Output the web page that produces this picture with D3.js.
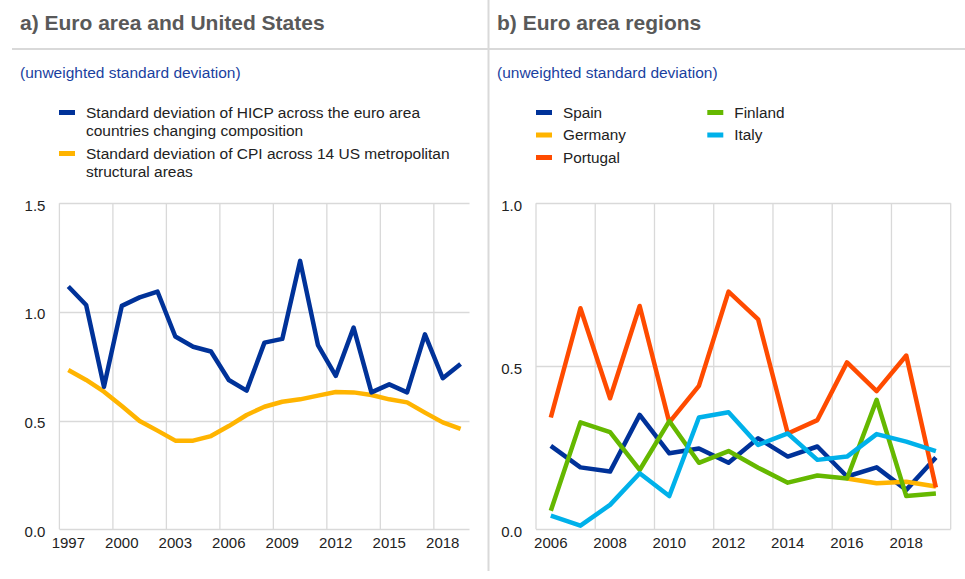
<!DOCTYPE html>
<html>
<head>
<meta charset="utf-8">
<script src="https://cdn.jsdelivr.net/npm/d3@7"></script>
<style>
  body { margin: 0; background: #fff; }
  svg text { font-family: "Liberation Sans", Arial, sans-serif; }
</style>
</head>
<body>
<div id="chart"></div>
<script>
// panel a) years and series
var yearsA = d3.range(1997, 2020);
var hicpEA = [1.117, 1.032, 0.656, 1.028, 1.067, 1.094, 0.887, 0.840, 0.818, 0.687, 0.638, 0.859,
  0.876, 1.235, 0.848, 0.706, 0.928, 0.630, 0.667, 0.630, 0.897, 0.695, 0.761];
var cpiUS = [0.733, 0.687, 0.633, 0.567, 0.498, 0.454, 0.408, 0.408, 0.429, 0.475, 0.526, 0.564,
  0.587, 0.598, 0.615, 0.632, 0.630, 0.618, 0.598, 0.584, 0.537, 0.492, 0.462];
var labelsA = ["Standard deviation of HICP across the euro area|countries changing composition",
  "Standard deviation of CPI across 14 US metropolitan|structural areas"];

// panel b) years and regions
var yearsB = d3.range(2006, 2020);
var spain    = [0.256, 0.190, 0.177, 0.351, 0.233, 0.248, 0.204, 0.279, 0.223, 0.254, 0.162, 0.190, 0.121, 0.220];
var germany  = [null, null, null, null, null, null, null, null, null, null, 0.156, 0.141, 0.146, 0.131];
var portugal = [0.343, 0.678, 0.402, 0.685, 0.328, 0.440, 0.729, 0.644, 0.294, 0.335, 0.512, 0.424, 0.533, 0.128];
var finland  = [0.057, 0.328, 0.298, 0.182, 0.332, 0.204, 0.240, 0.189, 0.143, 0.165, 0.156, 0.397, 0.102, 0.110];
var italy    = [0.042, 0.011, 0.075, 0.172, 0.102, 0.343, 0.359, 0.259, 0.294, 0.213, 0.223, 0.292, 0.269, 0.240];

var blue = "#003299", yellow = "#ffb400", orange = "#ff4b00", green = "#65b800", cyan = "#00b1ea";
var grid = "#d9d9d9";

var svg = d3.select("#chart").append("svg")
  .attr("width", 965).attr("height", 579);

// header lines
svg.append("line").attr("x1", 12).attr("x2", 965).attr("y1", 49).attr("y2", 49)
  .attr("stroke", grid).attr("stroke-width", 2);
svg.append("line").attr("x1", 488.5).attr("x2", 488.5).attr("y1", 0).attr("y2", 571)
  .attr("stroke", grid).attr("stroke-width", 2);

function header(x, title) {
  svg.append("text").attr("x", x).attr("y", 30)
    .attr("font-size", 21).attr("font-weight", "bold").attr("fill", "#595959").text(title);
  svg.append("text").attr("x", x).attr("y", 78)
    .attr("font-size", 15.5).attr("fill", "#1a3fa0").text("(unweighted standard deviation)");
}
header(20, "a) Euro area and United States");
header(497, "b) Euro area regions");

// draws one panel: band x scale, linear y, grid, lines
function panel(opts) {
  var x = d3.scaleBand().domain(opts.years).range(opts.xr).paddingInner(0).paddingOuter(0);
  var y = d3.scaleLinear().domain([0, opts.ymax]).range([529.3, 203.3]);
  var g = svg.append("g");

  // horizontal grid
  g.selectAll(".hg").data(opts.yticks).enter().append("line")
    .attr("x1", opts.xr[0]).attr("x2", opts.xr[1])
    .attr("y1", d => Math.round(y(d)) + 0.5).attr("y2", d => Math.round(y(d)) + 0.5)
    .attr("stroke", grid).attr("stroke-width", 1.3);
  // vertical grid at category boundaries
  var vx = opts.xticks.map(d => x(d));
  if (opts.closeRight) vx.push(opts.xr[1]);
  g.selectAll(".vg").data(vx).enter().append("line")
    .attr("x1", d => d).attr("x2", d => d)
    .attr("y1", y(opts.ymax)).attr("y2", y(0))
    .attr("stroke", grid).attr("stroke-width", 1.3);

  // y axis labels
  var ya = d3.axisLeft(y).tickValues(opts.yticks).tickFormat(d3.format(".1f")).tickSize(0).tickPadding(14);
  g.append("g").attr("transform", "translate(" + opts.xr[0] + ",2)").call(ya)
    .call(s => s.select(".domain").remove())
    .selectAll("text").attr("font-size", 15).attr("fill", "#222");
  // x axis labels
  var xa = d3.axisBottom(x).tickValues(opts.xticks).tickSize(0).tickPadding(8);
  g.append("g").attr("transform", "translate(0," + y(0) + ")").call(xa)
    .call(s => s.select(".domain").remove())
    .selectAll("text").attr("font-size", 15).attr("fill", "#222");

  var line = d3.line()
    .defined(d => d[1] != null)
    .x(d => x(d[0]) + x.bandwidth() / 2)
    .y(d => y(d[1]));
  opts.series.forEach(function (s) {
    g.append("path")
      .datum(opts.years.map((yr, i) => [yr, s.values[i]]))
      .attr("fill", "none").attr("stroke", s.color).attr("stroke-width", 4.5)
      .attr("stroke-linejoin", "round").attr("d", line);
  });
}

panel({
  years: yearsA, xr: [59.4, 469.5], ymax: 1.5, yticks: [0, 0.5, 1, 1.5],
  xticks: yearsA.filter((d, i) => i % 3 === 0), closeRight: false,
  series: [{ values: cpiUS, color: yellow }, { values: hicpEA, color: blue }]
});
panel({
  years: yearsB, xr: [536, 950.7], ymax: 1.0, yticks: [0, 0.5, 1],
  xticks: yearsB.filter((d, i) => i % 2 === 0), closeRight: true,
  series: [
    { values: spain, color: blue }, { values: germany, color: yellow },
    { values: portugal, color: orange }, { values: finland, color: green },
    { values: italy, color: cyan }
  ]
});

// legend a)
var legA = [{ label: labelsA[0], color: blue, y: 112.5 }, { label: labelsA[1], color: yellow, y: 153.5 }];
legA.forEach(function (d) {
  svg.append("rect").attr("x", 59).attr("y", d.y - 2.5).attr("width", 16).attr("height", 5).attr("fill", d.color);
  var t = svg.append("text").attr("x", 86).attr("y", d.y + 5).attr("font-size", 15.5).attr("fill", "#222");
  d.label.split("|").forEach(function (ln, i) {
    t.append("tspan").attr("x", 86).attr("dy", i ? 18 : 0).text(ln);
  });
});

// legend b)
var legB = [
  { label: "Spain", color: blue, col: 0, row: 0 },
  { label: "Germany", color: yellow, col: 0, row: 1 },
  { label: "Portugal", color: orange, col: 0, row: 2 },
  { label: "Finland", color: green, col: 1, row: 0 },
  { label: "Italy", color: cyan, col: 1, row: 1 }
];
legB.forEach(function (d) {
  var x0 = d.col ? 707.3 : 536, cy = 112.5 + d.row * 22.5;
  svg.append("rect").attr("x", x0).attr("y", cy - 2.5).attr("width", 16).attr("height", 5).attr("fill", d.color);
  svg.append("text").attr("x", x0 + 27).attr("y", cy + 5).attr("font-size", 15.3).attr("fill", "#222").text(d.label);
});
</script>
</body>
</html>
